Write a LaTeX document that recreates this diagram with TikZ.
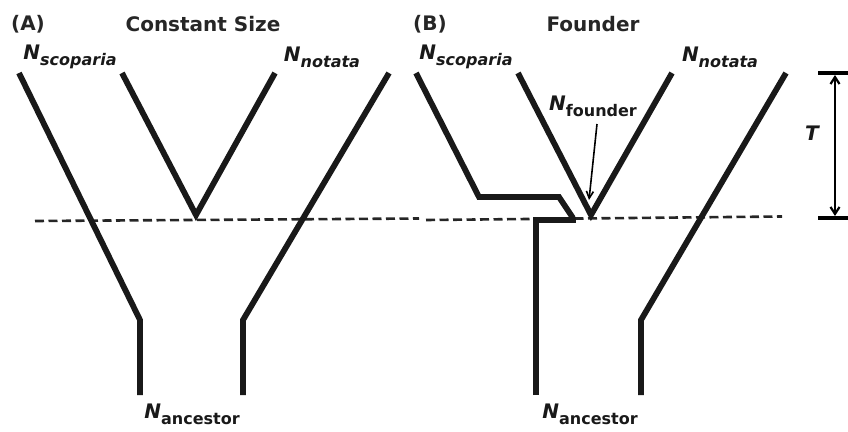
\documentclass[tikz,border=0pt]{standalone}
\usepackage{fontspec}
\setmainfont{DejaVu Sans}
\usetikzlibrary{arrows.meta}
\newcommand\popN[2]{{\fontsize{20}{22}\selectfont\bfseries\itshape N}\raisebox{-6pt}{\fontsize{16}{18}\selectfont\bfseries{#1#2}}}
\begin{document}
\begin{tikzpicture}[x=1pt,y=-1pt,
  branch/.style={line width=5.8pt,line join=miter,black!90},
  era/.style={line width=2.6pt,dash pattern=on 9pt off 4.5pt,black!85},
  title/.style={font=\fontsize{20}{22}\selectfont\bfseries,text=black!85,inner sep=0pt},
  lab/.style={text=black!90,inner sep=0pt},
  pointer/.style={line width=1.6pt,-{Straight Barb[length=7pt,width=7pt]}},
  bar/.style={line width=4pt}]
\useasboundingbox (0,0) rectangle (848,431);
% ---------- Panel A ----------
\node[title] (tA) at (28,24) {(A)};
\node[title] (cs) at (203,24) {Constant Size};
\node[lab] (sA) at (70,57) {\popN{\itshape}{scoparia}};
\node[lab] (nA) at (322,57) {\popN{\itshape}{notata}};
\node[lab] (aA) at (192,414) {\popN{}{ancestor}};
\coordinate (a1) at (19,73);
\coordinate (a2) at (140,320);
\coordinate (a3) at (140,395);
\coordinate (v1) at (122,73);
\coordinate (v0) at (196,215);
\coordinate (v2) at (275,73);
\coordinate (b1) at (389,73);
\coordinate (b2) at (243,320);
\coordinate (b3) at (243,395);
\coordinate (dA1) at (35,221);
\coordinate (dA2) at (419,218.5);
\draw[era] (dA1) -- (dA2);
\draw[branch] (a1) -- (a2) -- (a3);
\draw[branch] (v1) -- (v0) -- (v2);
\draw[branch] (b1) -- (b2) -- (b3);
% ---------- Panel B ----------
\node[title] (tB) at (430,24) {(B)};
\node[title] (fo) at (593,24) {Founder};
\node[lab] (sB) at (466,57) {\popN{\itshape}{scoparia}};
\node[lab] (nB) at (720,57) {\popN{\itshape}{notata}};
\node[lab] (fB) at (593,106) {\popN{}{founder}};
\node[lab] (aB) at (590,414) {\popN{}{ancestor}};
\coordinate (c1) at (416,73);
\coordinate (c2) at (479,197);
\coordinate (c3) at (559,197);
\coordinate (c4) at (573,218);
\coordinate (e1) at (536,395);
\coordinate (e2) at (536,220);
\coordinate (e3) at (576,220);
\coordinate (w1) at (518,73);
\coordinate (w0) at (591,215);
\coordinate (w2) at (672,73);
\coordinate (g1) at (786,73);
\coordinate (g2) at (641,320);
\coordinate (g3) at (641,395);
\coordinate (dB1) at (426,220);
\coordinate (dB2) at (782,216.5);
\coordinate (fp) at (597,124);
\coordinate (ft) at (589,200);
\draw[era] (dB1) -- (dB2);
\draw[branch] (c1) -- (c2) -- (c3) -- (c4);
\draw[branch] (e1) -- (e2) -- (e3);
\draw[branch] (w1) -- (w0) -- (w2);
\draw[branch] (g1) -- (g2) -- (g3);
\draw[pointer] (fp) -- (ft);
% ---------- T scale ----------
\coordinate (t1) at (818,73);
\coordinate (t2) at (848,73);
\coordinate (t3) at (818,218);
\coordinate (t4) at (848,218);
\coordinate (tu) at (835,75);
\coordinate (td) at (835,216);
\draw[bar] (t1) -- (t2);
\draw[bar] (t3) -- (t4);
\draw[line width=2.2pt,{Straight Barb[length=7pt,width=9pt]}-{Straight Barb[length=7pt,width=9pt]}] (tu) -- (td);
\node[lab,font=\fontsize{20}{22}\selectfont\bfseries\itshape] (T) at (812,133) {T};
\end{tikzpicture}
\end{document}
